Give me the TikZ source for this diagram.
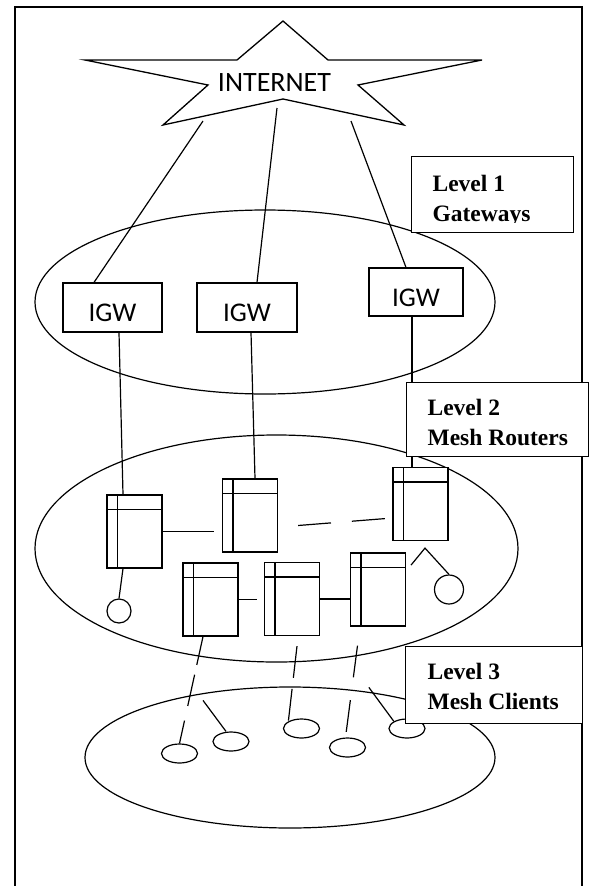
\documentclass[tikz,border=0pt]{standalone}
\usepackage{fontspec}
\setmainfont{Liberation Serif}
\newfontfamily\calfont{Carlito}
\usepackage{tikz}
\usetikzlibrary{shapes.geometric}

\begin{document}
\begin{tikzpicture}[
  x=1pt, y=-1pt, line width=1.2pt,
  zone/.style={ellipse, draw, inner sep=0pt},
  igw/.style={rectangle, draw, fill=white, inner sep=0pt, minimum height=49pt, text height=28.4pt, text depth=0pt, font=\calfont\fontsize{27}{32}\selectfont},
  router/.style={rectangle, draw, fill=white, inner sep=0pt, minimum width=55pt, minimum height=73pt,
    path picture={
      \draw ([xshift=10.5pt]path picture bounding box.north west) -- ([xshift=10.5pt]path picture bounding box.south west);
      \draw ([yshift=-14.5pt]path picture bounding box.north west) -- ([yshift=-14.5pt]path picture bounding box.north east);
    }},
  client/.style={circle, draw, inner sep=0pt},
  mobile/.style={ellipse, draw, inner sep=0pt, minimum width=36pt, minimum height=19pt},
  levelbox/.style={rectangle, draw, fill=white, line width=1.3pt, inner sep=0pt, anchor=north west},
  leveltext/.style={anchor=north west, align=left, inner sep=0pt, font=\bfseries\fontsize{23.5}{30}\selectfont}
]
\useasboundingbox (0,0) rectangle (590,886);

% Frame
\draw[line width=1.4pt] (15,886) -- (15,7) -- (582,7) -- (582,886);

% Zones
\node[zone, minimum width=460pt, minimum height=184pt] (zone1) at (265,302) {};
\node[zone, minimum width=483pt, minimum height=227pt] (zone2) at (276.5,548.5) {};
\node[zone, minimum width=410pt, minimum height=141pt] (zone3) at (290,757.5) {};

% Internet
\draw[line width=1.3pt] (283,21) -- (328,60) -- (482,60) -- (358,85) -- (404,125) -- (283,99)
  -- (163,125) -- (208,85) -- (85,60) -- (237,60) -- cycle;
\node[font=\calfont\fontsize{28}{34}\selectfont, anchor=base, inner sep=0pt] (inet) at (274.5,91) {INTERNET};
\coordinate (net1) at (203,121);
\coordinate (net2) at (277,108);
\coordinate (net3) at (351,121);

% Level 1: gateways
\node[igw, minimum width=99pt] (igw1) at (112.5,307.5) {IGW};
\node[igw, minimum width=100pt] (igw2) at (247,307.5) {IGW};
\node[igw, minimum width=94pt, minimum height=48pt] (igw3) at (416,292) {IGW};

\draw (net1) -- ([xshift=-18.5pt]igw1.north);
\draw (net2) -- ([xshift=10pt]igw2.north);
\draw (net3) -- ([xshift=-10pt]igw3.north);

% Level 2: routers
\node[router] (r1) at (134.5,531.5) {};
\node[router] (r2) at (250,515.5) {};
\node[router] (r3) at (420.5,504) {};
\node[router] (r4) at (210.5,599.5) {};
\node[router] (r5) at (292,599) {};
\node[router] (r6) at (378,589.5) {};

\draw ([xshift=6.5pt]igw1.south) -- ([xshift=-11.5pt]r1.north);
\draw ([xshift=4pt]igw2.south) -- ([xshift=5pt]r2.north);
\draw ([xshift=-4pt]igw3.south) -- ([xshift=-8.5pt]r3.north);

\draw (r1.east) -- ++(51,0);
\draw[dash pattern=on 33pt off 21pt] ([xshift=20pt,yshift=-10pt]r2.east) -- ([yshift=-14pt]r3.west);
\draw (r4.east) -- ++(18,0);
\draw (r5.east) -- (r6.west |- r5.east);

\node[client, minimum size=24pt] (c1) at (119,611) {};
\node[client, minimum size=29pt] (c2) at (449,589.5) {};
\draw ([xshift=-11.5pt]r1.south) -- (c1.north);
\draw (c2.north) -- ([xshift=4.5pt,yshift=-7pt]r3.south) -- ++(-14,17);

% Level 3: clients
\node[mobile] (m1) at (179.5,753.5) {};
\node[mobile] (m2) at (231,741.5) {};
\node[mobile] (m3) at (301.5,728.5) {};
\node[mobile] (m4) at (347.5,747.5) {};
\node[mobile] (m5) at (407,728.5) {};

\draw[dash pattern=on 29pt off 10pt on 32pt off 15pt] ([xshift=-7.5pt]r4.south) -- (m1.north);
\draw ([xshift=-5pt]m2.north) -- ++(-23,-31);
\draw[dash pattern=on 32pt off 11pt] ([xshift=5pt,yshift=-10pt]r5.south) -- (m3.north west);
\draw[dash pattern=on 32pt off 23pt] ([xshift=-20.5pt,yshift=-19pt]r6.south) -- ([xshift=-2pt]m4.north);
\draw (m5.north west) -- ++(-25,-34);

% Level labels (text cut off at the bottom as in the boxes)
\node[levelbox, minimum width=162pt, minimum height=76pt] (lvl1) at (411,156) {};
\begin{scope}
  \clip (411,156) rectangle (573,222);
  \node[leveltext] (lvl1txt) at (432,175) {Level 1\\Gateways};
\end{scope}
\node[levelbox, minimum width=182pt, minimum height=74pt] (lvl2) at (406,382) {};
\begin{scope}
  \clip (406,382) rectangle (588,446);
  \node[leveltext] (lvl2txt) at (427,399) {Level 2\\Mesh Routers};
\end{scope}
\node[levelbox, minimum width=177pt, minimum height=77pt] (lvl3) at (405,646) {};
\node[leveltext] (lvl3txt) at (427,663) {Level 3\\Mesh Clients};

\end{tikzpicture}
\end{document}
